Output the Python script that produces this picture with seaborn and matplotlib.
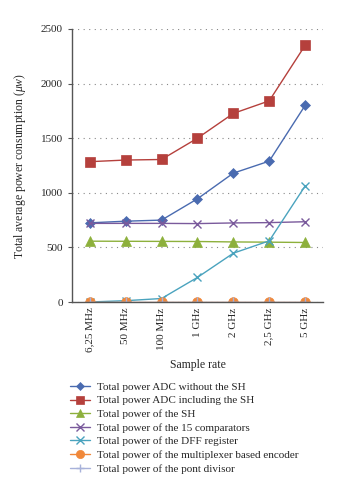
import matplotlib
matplotlib.use("Agg")
import matplotlib.pyplot as plt
import seaborn as sns
import pandas as pd

categories = ["6,25 MHz", "50 MHz", "100 MHz", "1 GHz", "2 GHz", "2,5 GHz", "5 GHz"]
adc_without_sh = [725, 740, 750, 945, 1180, 1290, 1800]
adc_including_sh = [1285, 1300, 1305, 1500, 1727, 1842, 2350]
sh_power = [557, 556, 555, 554, 550, 548, 545]
comparators = [720, 720, 720, 718, 724, 727, 735]
dff_register = [0, 12, 32, 225, 447, 560, 1062]
mux_encoder = [0, 0, 0, 0, 0, 0, 0]
pont_divisor = [0, 0, 0, 0, 0, 0, 0]

series_names = [
    "Total power ADC without the SH",
    "Total power ADC including the SH",
    "Total power of the SH",
    "Total power of the 15 comparators",
    "Total power of the DFF register",
    "Total power of the multiplexer based encoder",
    "Total power of the pont divisor",
]
series_values = [adc_without_sh, adc_including_sh, sh_power, comparators,
                 dff_register, mux_encoder, pont_divisor]
colors = ["#4A6BB0", "#B5403C", "#8DB03C", "#7A5A9C", "#4AA3BE", "#F0883A", "#A8B2DA"]
markers = ["D", "s", "^", "x", "x", "o", "+"]
msizes = [5, 7, 7, 6, 6, 7, 7]

sns.set_style("white")
plt.rcParams['font.family'] = ['Liberation Serif', 'DejaVu Serif']
plt.rcParams['mathtext.fontset'] = 'custom'
plt.rcParams['mathtext.rm'] = 'Liberation Serif'
plt.rcParams['mathtext.it'] = 'Liberation Serif:italic'

rows = []
for name, vals in zip(series_names, series_values):
    for i, v in enumerate(vals):
        rows.append({"series": name, "x": i, "value": v})
df = pd.DataFrame(rows)

fig = plt.figure(figsize=(3.47, 5.0), dpi=100)
ax = fig.add_axes([0.207, 0.396, 0.724, 0.546])

handles = []
for name, c, m, ms in zip(series_names, colors, markers, msizes):
    sub = df[df["series"] == name]
    mew = 1.0 if m in ("x", "+") else 0.5
    sns.lineplot(data=sub, x="x", y="value", ax=ax, color=c, marker=m,
                 markersize=ms, linewidth=1.0, markeredgecolor=c,
                 markeredgewidth=mew, legend=False)
    h, = ax.plot([], [], color=c, marker=m, markersize=ms * 0.85, linewidth=1.0,
                 markeredgecolor=c, markeredgewidth=mew)
    handles.append(h)

ax.set_xlim(-0.5, len(categories) - 0.5)
ax.set_ylim(0, 2500)
ax.set_yticks([0, 500, 1000, 1500, 2000, 2500])
ax.set_xticks(range(len(categories)))
ax.set_xticklabels(categories, rotation=90, fontsize=8)
ax.tick_params(axis='y', labelsize=8, length=3, color="#555555", direction='out', left=True)
ax.tick_params(axis='x', length=0, pad=4)
ax.yaxis.grid(True, linestyle=(0, (1, 4)), color="#888888", linewidth=0.8)
ax.xaxis.grid(False)
for s in ["top", "right"]:
    ax.spines[s].set_visible(False)
for s in ["left", "bottom"]:
    ax.spines[s].set_color("#555555")
    ax.spines[s].set_linewidth(1.0)
ax.set_xlabel("Sample rate", fontsize=8.5, labelpad=5)
ax.set_ylabel(r"Total average power consumption ($\mathit{\mu w}$)", fontsize=8.5, labelpad=9)

fig.legend(handles, series_names, loc="upper left", bbox_to_anchor=(0.19, 0.245),
           frameon=False, fontsize=8, handlelength=1.8, labelspacing=0.35,
           handletextpad=0.6, borderaxespad=0)

fig.savefig("out.png", dpi=100)
